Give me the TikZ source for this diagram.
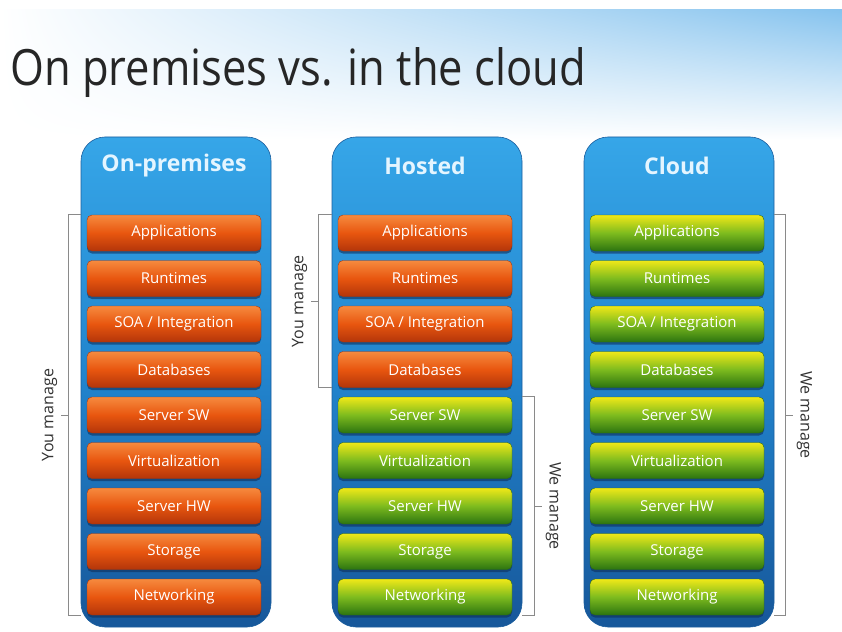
\documentclass[tikz,border=0pt]{standalone}
\usepackage{fontspec}
\setmainfont{Open Sans}
\usepackage{xcolor}
\usetikzlibrary{positioning,calc,shadows,shadings}
\definecolor{skyblue}{HTML}{86C3EE}
\definecolor{titlegray}{HTML}{262626}
\definecolor{coltop}{HTML}{36A6E8}
\definecolor{colmid}{HTML}{2183CC}
\definecolor{colbot}{HTML}{17579A}
\definecolor{coledge}{HTML}{1B5E9E}
\definecolor{headtext}{HTML}{E4F5FF}
\definecolor{orgtop}{HTML}{F68A3E}
\definecolor{orgmid}{HTML}{E8560F}
\definecolor{orgbot}{HTML}{B3350A}
\definecolor{orgedge}{HTML}{A8360C}
\definecolor{grntop}{HTML}{F0E818}
\definecolor{grnmid}{HTML}{7DBB1E}
\definecolor{grnbot}{HTML}{2C7410}
\definecolor{grnedge}{HTML}{2E6A14}
\definecolor{shadowblue}{HTML}{0E2F5C}
\definecolor{bracegray}{HTML}{8A8A8A}
\definecolor{labelgray}{HTML}{333333}
\tikzset{
  stackcol/.style={rounded corners=24pt, minimum width=190pt, minimum height=490pt, top color=coltop, bottom color=colbot, middle color=colmid, draw=coledge, line width=0.6pt},
  colhead/.style={font=\bfseries\fontsize{23}{26}\selectfont, text=headtext},
  layer/.style={rounded corners=5pt, minimum width=174pt, minimum height=36pt, inner sep=0pt, text=white, font=\fontsize{15}{18}\selectfont, drop shadow={opacity=0.6, shadow xshift=0pt, shadow yshift=-2.5pt, fill=shadowblue}},
  youlayer/.style={layer, top color=orgtop, bottom color=orgbot, middle color=orgmid, draw=orgedge},
  welayer/.style={layer, top color=grntop, bottom color=grnbot, middle color=grnmid, draw=grnedge},
  brace/.style={draw=bracegray, line width=0.8pt},
  managelabel/.style={font=\fontsize{16}{18}\selectfont, text=labelgray, inner sep=3pt}
}

\begin{document}
\begin{tikzpicture}[x=1pt, y=-1pt]
  \useasboundingbox (0,0) rectangle (842,631);
  \fill[white] (0,0) rectangle (842,631);
  \shade[upper left=white, upper right=skyblue, lower left=white, lower right=white] (0,10) rectangle (842,140);

  \node[anchor=base west, font=\fontsize{50}{56}\selectfont, xscale=0.87, text=titlegray, inner sep=0pt] (title) at (10,86) {On premises vs. in the cloud};

  % on-premises column
  \node[stackcol] (col1) at (176,382) {};
  \node[colhead] (head1) at (174,166) {On-premises};
  \node[youlayer] (app1) at (174,233) {Applications};
  \node[youlayer] (run1) at (174,278.5) {Runtimes};
  \node[youlayer] (soa1) at (174,324) {SOA / Integration};
  \node[youlayer] (db1) at (174,369.5) {Databases};
  \node[youlayer] (sw1) at (174,415) {Server SW};
  \node[youlayer] (virt1) at (174,460.5) {Virtualization};
  \node[youlayer] (hw1) at (174,506) {Server HW};
  \node[youlayer] (sto1) at (174,551.5) {Storage};
  \node[youlayer] (net1) at (174,597) {Networking};

  % hosted column
  \node[stackcol] (col2) at (427,382) {};
  \node[colhead] (head2) at (425,166) {Hosted};
  \node[youlayer] (app2) at (425,233) {Applications};
  \node[youlayer] (run2) at (425,278.5) {Runtimes};
  \node[youlayer] (soa2) at (425,324) {SOA / Integration};
  \node[youlayer] (db2) at (425,369.5) {Databases};
  \node[welayer] (sw2) at (425,415) {Server SW};
  \node[welayer] (virt2) at (425,460.5) {Virtualization};
  \node[welayer] (hw2) at (425,506) {Server HW};
  \node[welayer] (sto2) at (425,551.5) {Storage};
  \node[welayer] (net2) at (425,597) {Networking};

  % cloud column
  \node[stackcol] (col3) at (679,382) {};
  \node[colhead] (head3) at (677,166) {Cloud};
  \node[welayer] (app3) at (677,233) {Applications};
  \node[welayer] (run3) at (677,278.5) {Runtimes};
  \node[welayer] (soa3) at (677,324) {SOA / Integration};
  \node[welayer] (db3) at (677,369.5) {Databases};
  \node[welayer] (sw3) at (677,415) {Server SW};
  \node[welayer] (virt3) at (677,460.5) {Virtualization};
  \node[welayer] (hw3) at (677,506) {Server HW};
  \node[welayer] (sto3) at (677,551.5) {Storage};
  \node[welayer] (net3) at (677,597) {Networking};

  % brackets
  \draw[brace] (col1.west |- app1.north) -- ++(-12,0) coordinate (b1t) -- (b1t |- net1.south) coordinate (b1b) -- (col1.west |- net1.south);
  \coordinate (b1m) at ($(b1t)!0.5!(b1b)$);
  \draw[brace] (b1m) -- ++(-8,0) node[managelabel, rotate=90, anchor=south] (you1) {You manage};

  \draw[brace] (col2.west |- app2.north) -- ++(-13,0) coordinate (b2t) -- (b2t |- db2.south) coordinate (b2b) -- (col2.west |- db2.south);
  \coordinate (b2m) at ($(b2t)!0.5!(b2b)$);
  \draw[brace] (b2m) -- ++(-8,0) node[managelabel, rotate=90, anchor=south] (you2) {You manage};

  \draw[brace] (col2.east |- sw2.north) -- ++(12,0) coordinate (b3t) -- (b3t |- net2.south) coordinate (b3b) -- (col2.east |- net2.south);
  \coordinate (b3m) at ($(b3t)!0.5!(b3b)$);
  \draw[brace] (b3m) -- ++(8,0) node[managelabel, rotate=-90, anchor=south] (we2) {We manage};

  \draw[brace] (col3.east |- app3.north) -- ++(11,0) coordinate (b4t) -- (b4t |- net3.south) coordinate (b4b) -- (col3.east |- net3.south);
  \coordinate (b4m) at ($(b4t)!0.5!(b4b)$);
  \draw[brace] (b4m) -- ++(8,0) node[managelabel, rotate=-90, anchor=south] (we3) {We manage};
\end{tikzpicture}
\end{document}
